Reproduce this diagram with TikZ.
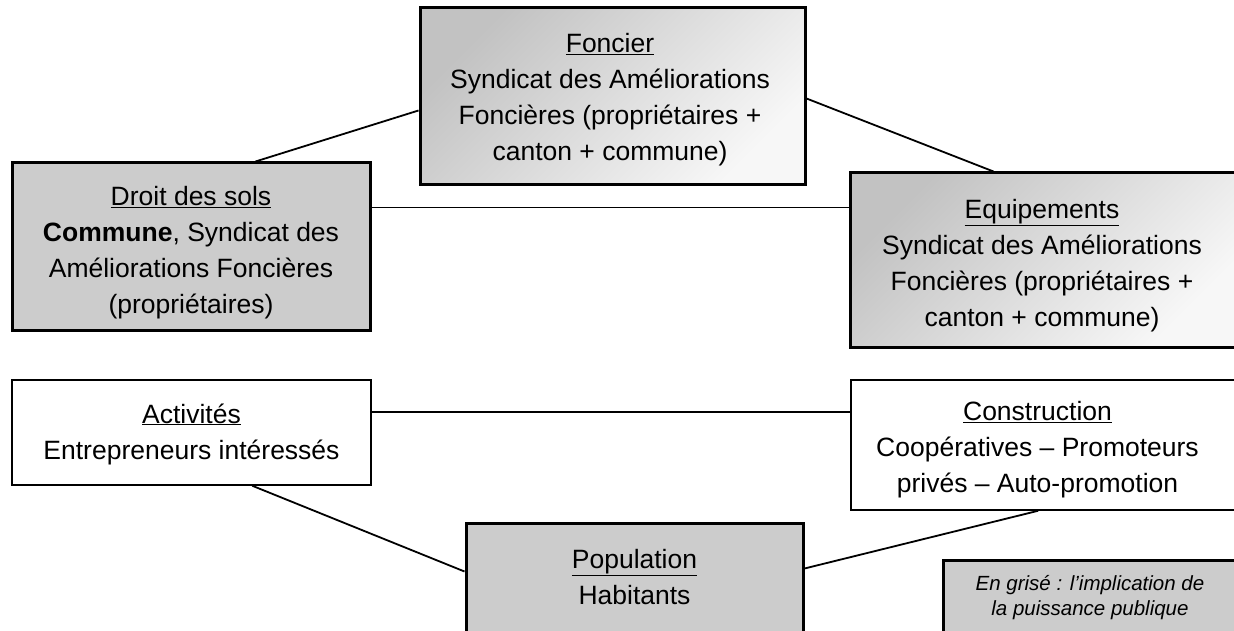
\documentclass[tikz,border=0pt]{standalone}
\usepackage{fontspec}
\setmainfont{Liberation Sans}
\usetikzlibrary{calc}

\tikzset{
  heavybox/.style={draw=black, line width=3pt, rectangle, inner sep=0pt},
  lightbox/.style={draw=black, line width=1.5pt, rectangle, inner sep=0pt, fill=white},
  flatgray/.style={heavybox, fill=black!20},
  fadegray/.style={heavybox, top color=black!24, bottom color=white!97!black, shading angle=45},
  label/.style={align=center, inner sep=0pt, font=\fontsize{26.5pt}{36pt}\selectfont},
  smalllabel/.style={align=center, inner sep=0pt, font=\fontsize{20.5pt}{25pt}\selectfont\itshape},
  link/.style={draw=black, line width=1.8pt}
}

\begin{document}
\begin{tikzpicture}[x=1pt, y=-1pt]
  \useasboundingbox (0,0) rectangle (1234,631);
  \fill[white] (0,0) rectangle (1234,631);

  % boxes
  \node[fadegray, minimum width=385pt, minimum height=177pt] (fon) at (612.5,96.5) {};
  \node[flatgray, minimum width=358pt, minimum height=167pt] (dro) at (191,246.5) {};
  \node[fadegray, minimum width=386pt, minimum height=174pt] (equ) at (1043,260) {};
  \node[lightbox, minimum width=359pt, minimum height=105pt] (act) at (191.5,432.5) {};
  \node[lightbox, minimum width=387pt, minimum height=130pt] (con) at (1044.5,445) {};
  \node[flatgray, minimum width=337pt, minimum height=117pt] (pop) at (634.5,581.5) {};
  \node[flatgray, minimum width=294pt, minimum height=80pt] (leg) at (1090,600) {};

  % connectors between the domains
  \draw[link] ($(dro.north west)+(245,0)$) -- ($(fon.north west)+(0,104)$);
  \draw[link] ($(fon.north east)+(0,92)$) -- ($(equ.north west)+(145,0)$);
  \draw[link] ($(dro.north east)+(0,46)$) -- ($(equ.north west)+(0,36)$);
  \draw[link] ($(act.north east)+(0,33)$) -- ($(con.north west)+(0,33)$);
  \draw[link] ($(act.south west)+(241,0)$) -- ($(pop.north west)+(0,50)$);
  \draw[link] ($(pop.north east)+(0,47)$) -- ($(con.south west)+(188,0)$);

  % texts
  \node[label] (fonT) at (610,99.5) {\underline{Foncier}\\Syndicat des Améliorations\\Foncières (propriétaires +\\canton + commune)};
  \node[label] (droT) at (191,253) {\underline{Droit des sols}\\\textbf{Commune}, Syndicat des\\Améliorations Foncières\\(propriétaires)};
  \node[label] (equT) at (1042,265.5) {\underline{Equipements}\\Syndicat des Améliorations\\Foncières (propriétaires +\\canton + commune)};
  \node[label] (actT) at (191.5,434) {\underline{Activités}\\Entrepreneurs intéressés};
  \node[label] (conT) at (1037.5,449.5) {\underline{Construction}\\Coopératives – Promoteurs\\privés – Auto-promotion};
  \node[label] (popT) at (634.5,577) {\underline{Population}\\Habitants};
  \node[smalllabel] (legT) at (1090,598) {En grisé : l’implication de\\la puissance publique};
\end{tikzpicture}
\end{document}
